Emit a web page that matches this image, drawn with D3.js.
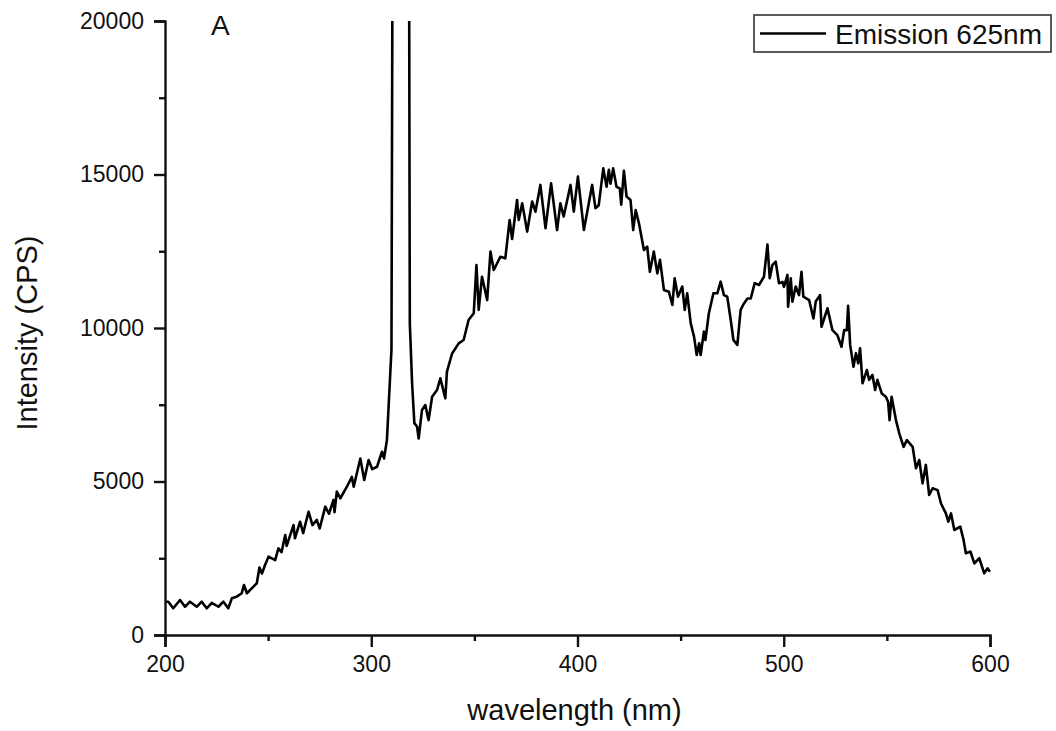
<!DOCTYPE html>
<html>
<head>
<meta charset="utf-8">
<script src="https://cdn.jsdelivr.net/npm/d3@7"></script>
<style>
  body { margin: 0; background: #fff; }
  text { font-family: "Liberation Sans", Arial, sans-serif; fill: #111; }
</style>
</head>
<body>
<div id="chart"></div>
<script>

// emission spectrum, values
const wavelength = [
  200, 201.6, 204, 207.3, 209.7, 212.1, 215.4, 217.8, 220.2, 222.7, 225.9, 228.3, 230.7, 232.4,
  234.8, 237.2, 238.3, 239.7, 242.9, 244.5, 245.8, 247, 248.5, 250.2, 253.4, 255, 256.5, 258.3,
  259, 262.3, 263, 265.5, 267, 269.6, 271.5, 273.6, 275, 277.7, 279.5, 281.7, 282.2, 283.3, 285,
  288.2, 290.6, 291.5, 294.7, 296.6, 298.7, 300.5, 302.8, 305.2, 306.2, 307.6, 309.8, 311, 314,
  317.8, 318.7, 319.8, 320.9, 322.2, 323, 324.6, 326.2, 327.8, 329.5, 331.9, 333.5, 335.9, 336.7,
  339.2, 342.4, 344.8, 347.2, 349.7, 351, 352.1, 353.7, 356.2, 357.8, 359.4, 362.6, 365, 367.1,
  368.3, 370.7, 371.5, 373.2, 375.6, 378, 379.6, 382, 384.5, 387.2, 390.1, 391.7, 393.3, 396.6,
  398.2, 400.2, 403.1, 407.1, 408.7, 410.3, 412.5, 414.1, 415.2, 416, 417.3, 418.9, 420.5, 421.2,
  422.5, 423.8, 425.7, 427, 428.2, 429.8, 432.2, 433.8, 435.1, 437, 438.7, 440, 441.9, 444.3, 446,
  447.1, 448.7, 450.8, 452, 453.2, 454.9, 456.5, 457.8, 459, 459.7, 461.3, 462, 463.7, 465.9,
  467.8, 469.4, 471, 472.6, 474.3, 475.6, 477.5, 479.1, 480.7, 482.4, 484, 485.9, 488, 490.4,
  492.1, 493.2, 494.5, 496.1, 497.7, 499.4, 500.1, 501.8, 502.1, 503.4, 504.2, 505.8, 507.4,
  508.6, 509.5, 512.3, 514.4, 515.5, 517.6, 518.3, 521.2, 523.6, 526, 528, 529.3, 530.6, 531.2,
  532.2, 533.8, 535, 536.1, 537, 538.2, 540.3, 541.4, 543, 544.3, 545.4, 547.5, 549.5, 550.6,
  551.3, 552.3, 554.4, 556, 558.1, 559.7, 562.5, 564.1, 565.7, 567.3, 568.9, 570.5, 572.2, 574.6,
  576.2, 578.6, 579.8, 581.1, 582.7, 585.6, 587.2, 588.3, 590.5, 592.4, 594.8, 597.2, 598.8, 600
];
const intensity = [
  1085, 1085, 870, 1140, 920, 1085, 920, 1085, 870, 1050, 920, 1085, 870, 1195,
  1250, 1360, 1630, 1360, 1575, 1685, 2200, 2000, 2280, 2550, 2440, 2820, 2700, 3257,
  2900, 3580, 3150, 3690, 3320, 4015, 3580, 3750, 3470, 4180, 3950, 4400, 4000, 4670, 4450,
  4830, 5150, 4830, 5750, 5050, 5700, 5400, 5480, 5970, 5750, 6350, 9300, 40000, 60000,
  40000, 10150, 8200, 6900, 6790, 6400, 7330, 7490, 7000, 7760, 7980, 8360, 7710, 8580,
  9170, 9500, 9610, 10260, 10480, 12050, 10590, 11670, 10910, 12490, 11890, 12320, 12270, 13520,
  12900, 14170, 13520, 14060, 13140, 14120, 13790, 14660, 13250, 14710, 13190, 14060, 13630, 14660,
  13790, 14930, 13190, 14660, 13900, 14000, 15200, 14600, 15150, 14700, 15200, 14600, 14550, 14020,
  15120, 14280, 14170, 13190, 13840, 13410, 12540, 12650, 11830, 12490, 11780, 12220, 11240, 11180, 10750,
  11620, 11020, 11350, 10590, 11130, 10150, 9720, 9120, 9500, 9120, 9880, 9610, 10480, 11130,
  11130, 11510, 11070, 11020, 10260, 9610, 9450, 10590, 10800, 10960, 10960, 11460, 11400, 11670,
  12720, 11620, 12050, 12160, 11460, 11500, 11340, 11730, 10690, 11620, 10860, 11350, 11070,
  11830, 11020, 10910, 10310, 10860, 11070, 10040, 10640, 9930, 9770, 9390, 9930, 9930, 10720,
  9450, 8740, 9180, 8850, 9340, 8200, 8630, 8310, 8470, 7980, 8310, 7870, 7760, 7600,
  7000, 7760, 7000, 6570, 6130, 6350, 6130, 5430, 5700, 4940, 5540, 4560, 4780, 4720,
  4290, 3960, 3690, 3960, 3420, 3530, 3090, 2660, 2720, 2330, 2500, 2010, 2170, 2060
];

const xMajor = [200, 300, 400, 500, 600];
const xMinor = [250, 350, 450, 550];
const yMajor = [0, 5000, 10000, 15000, 20000];
const yMinor = [2500, 7500, 12500, 17500];
const seriesName = "Emission 625nm";

const W = 1056, H = 731;
const margin = {top: 21, right: 66, bottom: 96, left: 165};
const width = W - margin.left - margin.right;
const height = H - margin.top - margin.bottom;

const svg = d3.select("#chart").append("svg")
    .attr("width", W)
    .attr("height", H);

const g = svg.append("g")
    .attr("transform", "translate(" + margin.left + "," + margin.top + ")");

const x = d3.scaleLinear().domain([200, 600]).range([0, width]);
const y = d3.scaleLinear().domain([0, 20000]).range([height, 0]);

svg.append("defs").append("clipPath")
    .attr("id", "plotClip")
    .append("rect")
    .attr("x", 0).attr("y", 0)
    .attr("width", width + 4).attr("height", height);

// data line
const points = wavelength.map((w, i) => [w, intensity[i]]);
g.append("path")
    .datum(points)
    .attr("clip-path", "url(#plotClip)")
    .attr("fill", "none")
    .attr("stroke", "#000")
    .attr("stroke-width", 2.6)
    .attr("stroke-linejoin", "round")
    .attr("d", d3.line().x(d => x(d[0])).y(d => y(d[1])));

// axes
const xAxis = g.append("g")
    .attr("transform", "translate(0," + height + ")")
    .call(d3.axisBottom(x).tickValues(xMajor).tickSize(12).tickPadding(9).tickFormat(d3.format("d")));
const xAxisMinor = g.append("g")
    .attr("transform", "translate(0," + height + ")")
    .call(d3.axisBottom(x).tickValues(xMinor).tickSize(6).tickFormat(""));

const yAxis = g.append("g")
    .call(d3.axisLeft(y).tickValues(yMajor).tickSize(11).tickPadding(10).tickFormat(d3.format("d")));
const yAxisMinor = g.append("g")
    .call(d3.axisLeft(y).tickValues(yMinor).tickSize(6).tickFormat(""));

[xAxis, xAxisMinor, yAxis, yAxisMinor].forEach(a => {
    a.select(".domain").attr("stroke", "#111").attr("stroke-width", 2.4);
    a.selectAll(".tick line").attr("stroke", "#111").attr("stroke-width", 2.4);
    a.selectAll(".tick text")
        .style("font-size", "23px")
        .style("font-family", "'Liberation Sans', Arial, sans-serif")
        .attr("fill", "#111");
});
xAxisMinor.select(".domain").remove();
yAxisMinor.select(".domain").remove();

// axis titles
svg.append("text")
    .attr("x", margin.left + x(400) - 3)
    .attr("y", 720)
    .attr("text-anchor", "middle")
    .style("font-size", "29px")
    .text("wavelength (nm)");

svg.append("text")
    .attr("transform", "translate(37," + 333 + ") rotate(-90)")
    .attr("text-anchor", "middle")
    .style("font-size", "29px")
    .text("Intensity (CPS)");

// panel letter
svg.append("text")
    .attr("x", 211)
    .attr("y", 35)
    .style("font-size", "28px")
    .text("A");

// legend
const legend = svg.append("g").attr("transform", "translate(754,15)");
legend.append("rect")
    .attr("width", 297).attr("height", 37)
    .attr("fill", "#fff")
    .attr("stroke", "#333")
    .attr("stroke-width", 1.6);
legend.append("line")
    .attr("x1", 6).attr("x2", 72)
    .attr("y1", 18.5).attr("y2", 18.5)
    .attr("stroke", "#000")
    .attr("stroke-width", 2.5);
legend.append("text")
    .attr("x", 81)
    .attr("y", 29)
    .style("font-size", "28px")
    .text(seriesName);

</script>
</body>
</html>
